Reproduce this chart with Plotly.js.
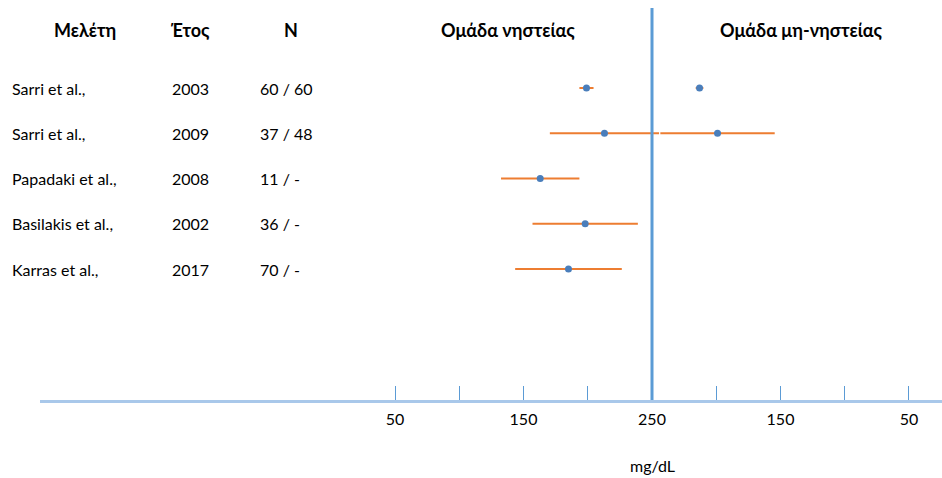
<!DOCTYPE html>
<html><head><meta charset="utf-8">
<script src="https://cdn.plot.ly/plotly-3.0.1.min.js"></script>
<style>html,body{margin:0;padding:0;background:#fff}#chart{width:942px;height:478px}</style>
</head><body><div id="chart"></div>
<script>
// ---- data ----
const studies = ["Sarri et al.,", "Sarri et al.,", "Papadaki et al.,", "Basilakis et al.,", "Karras et al.,"];
const years = ["2003", "2009", "2008", "2002", "2017"];
const nLabels = ["60 / 60", "37 / 48", "11 / -", "36 / -", "70 / -"];
const fastMean = [199, 213, 163, 198, 185];
const fastErr = [5.5, 42.5, 30.5, 41, 41.5];
const nonFastMean = [213, 199, null, null, null];
const nonFastErr = [3, 44.5, null, null, null];
const tickLabels = ["50", "", "150", "", "250", "", "150", "", "50"];
const tickMgdl = [50, 100, 150, 200, 250, 200, 150, 100, 50];
const headers = ["Μελέτη", "Έτος", "N", "Ομάδα νηστείας", "Ομάδα μη-νηστείας"];
const unitLabel = "mg/dL";

// ---- mirrored axis: left half = fasting (value), right half = non-fasting (2*250 - value)
const CENTER = 250;
const rows = studies.map((_, i) => i + 1);
const tickVals = tickMgdl.map((v, i) => i <= 4 ? v : 2 * CENTER - v);
const nfRows = [], nfX = [], nfE = [];
nonFastMean.forEach((v, i) => { if (v !== null) { nfRows.push(rows[i]); nfX.push(2 * CENTER - v); nfE.push(nonFastErr[i]); } });

const FONT = "Lato, 'Open Sans', sans-serif";
const markerStyle = {color: "#4a7ebb", size: 7};
const errStyle = {type: "data", visible: true, color: "#ed7d31", thickness: 2, width: 0};

const traces = [
  {type: "scatter", mode: "markers", x: fastMean, y: rows, marker: markerStyle,
   error_x: Object.assign({array: fastErr}, errStyle), hoverinfo: "x+y", showlegend: false},
  {type: "scatter", mode: "markers", x: nfX, y: nfRows, marker: markerStyle,
   error_x: Object.assign({array: nfE}, errStyle), hoverinfo: "x+y", showlegend: false}
];

const L = 40, W = 902;
const px = p => (p - L) / W;
const ann = [];
const txt = (x, y, t, anchor, bold) => ann.push({xref: "paper", yref: "y", x: px(x), y: y, text: bold ? "<b>" + t + "</b>" : t,
  showarrow: false, xanchor: anchor, yanchor: "middle", font: {family: FONT, size: bold ? 18 : 16, color: "#000"}});
const headY = -0.28;
txt(85, headY, headers[0], "center", true);
txt(190, headY, headers[1], "center", true);
txt(291, headY, headers[2], "center", true);
txt(508, headY, headers[3], "center", true);
txt(801, headY, headers[4], "center", true);
rows.forEach((r, i) => {
  txt(10, r, studies[i], "left", false);
  txt(170, r, years[i], "left", false);
  txt(258, r, nLabels[i], "left", false);
});
ann.push({xref: "x", yref: "paper", x: CENTER, y: -65 / 400, text: unitLabel, showarrow: false,
  xanchor: "center", yanchor: "middle", font: {family: FONT, size: 16, color: "#000"}});

const layout = {
  width: 942, height: 478,
  margin: {l: L, r: 0, t: 0, b: 78},
  paper_bgcolor: "#fff", plot_bgcolor: "#fff",
  showlegend: false,
  xaxis: {
    range: [-226.3, 475.7], showgrid: false, zeroline: false,
    showline: true, linecolor: "#a9c8ea", linewidth: 2.5,
    ticks: "inside", ticklen: 14, tickwidth: 1, tickcolor: "#5b9bd5",
    tickmode: "array", tickvals: tickVals, ticktext: tickLabels,
    tickfont: {family: FONT, size: 16, color: "#000"}, ticklabelstandoff: 3,
    fixedrange: true
  },
  yaxis: {range: [7.895, -0.945], visible: false, showgrid: false, zeroline: false, fixedrange: true},
  shapes: [{type: "line", xref: "x", yref: "paper", x0: CENTER, x1: CENTER, y0: 0, y1: 0.98,
    line: {color: "#5b9bd5", width: 3}}],
  annotations: ann
};

Plotly.newPlot("chart", traces, layout, {displayModeBar: false, staticPlot: true});
</script>
</body></html>
